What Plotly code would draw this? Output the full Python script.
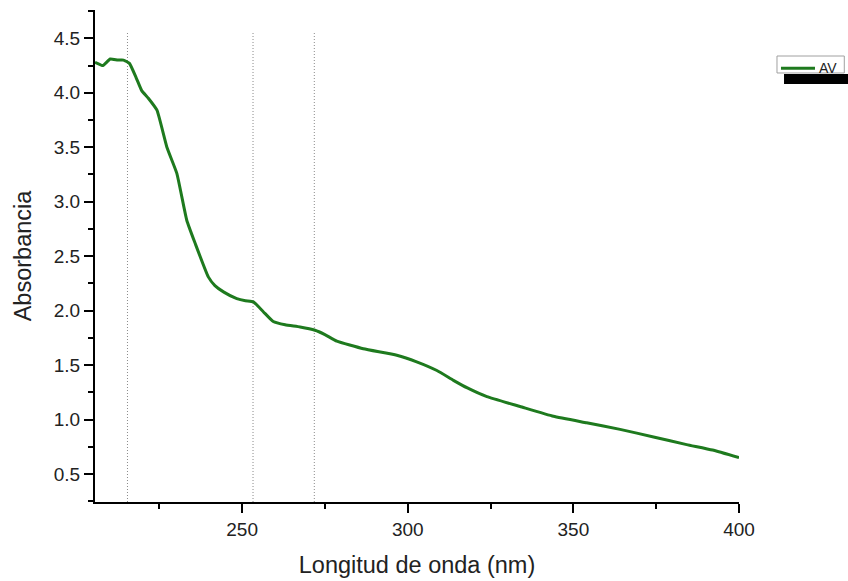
import plotly.graph_objects as go

# ---- data ----
series_name = "AV"
wavelength_nm = [205.6, 208.0, 210.2, 212.5, 214.2, 216.0, 218.0, 219.7, 221.7, 224.3,
                 227.3, 230.3, 233.3, 235.8, 239.8, 241.8, 244.5, 248.4, 251.0, 253.4,
                 256.4, 259.4, 263.0, 267.5, 272.0, 275.0, 278.6, 286.6, 296.7, 302.7,
                 308.8, 313.8, 318.0, 323.9, 333.9, 344.0, 354.0, 364.1, 374.2, 384.2,
                 392.0, 400.0]
absorbance = [4.28, 4.25, 4.31, 4.30, 4.30, 4.27, 4.14, 4.02, 3.95, 3.84,
              3.50, 3.26, 2.83, 2.62, 2.31, 2.23, 2.17, 2.11, 2.09, 2.08,
              1.99, 1.90, 1.87, 1.85, 1.82, 1.78, 1.72, 1.65, 1.59, 1.53,
              1.45, 1.36, 1.29, 1.21, 1.12, 1.03, 0.97, 0.91, 0.84, 0.77,
              0.72, 0.65]
marker_wavelengths = [215.4, 253.3, 271.8]
x_title = "Longitud de onda (nm)"
y_title = "Absorbancia"

X_RANGE = [205.6, 400]
Y_RANGE = [0.243, 4.76]
GREEN = "#1e7a1e"
FONT = "Liberation Sans, Arial, sans-serif"

fig = go.Figure()
fig.add_trace(go.Scatter(
    x=wavelength_nm, y=absorbance, mode="lines", name=series_name,
    line=dict(color=GREEN, width=3, shape="spline", smoothing=0.4),
    showlegend=False,
))

shapes = []
for w in marker_wavelengths:
    shapes.append(dict(type="line", xref="x", yref="y", x0=w, x1=w,
                       y0=Y_RANGE[0], y1=4.55,
                       line=dict(color="#8a8a8a", width=1, dash="1px,2px"),
                       layer="below"))

# legend drawn like the original (box with offset black shadow)
shapes += [
    dict(type="rect", xref="paper", yref="paper", x0=1.0699, x1=1.18, y0=0.8496, y1=0.8699,
         fillcolor="black", line=dict(width=0)),
    dict(type="rect", xref="paper", yref="paper", x0=1.0590, x1=1.1635, y0=0.8720, y1=0.9065,
         fillcolor="white", line=dict(color="#a0a0a0", width=1)),
    dict(type="line", xref="paper", yref="paper", x0=1.0652, x1=1.1180, y0=0.8817, y1=0.8817,
         line=dict(color=GREEN, width=3)),
]

axis_common = dict(
    showline=True, linecolor="black", linewidth=2, mirror=False,
    showgrid=False, zeroline=False, automargin=False,
    ticks="outside", ticklen=9, tickwidth=2, tickcolor="black",
    tickfont=dict(family=FONT, size=19, color="#222"),
)

fig.update_layout(
    width=848, height=581,
    margin=dict(l=95, r=109, t=10, b=79),
    paper_bgcolor="white", plot_bgcolor="white",
    font=dict(family=FONT),
    shapes=shapes,
    annotations=[dict(text=series_name, xref="paper", yref="paper", x=1.1210, y=0.8831,
                      xanchor="left", yanchor="middle", showarrow=False,
                      font=dict(family=FONT, size=14, color="#222"))],
    xaxis=dict(range=X_RANGE, dtick=50, tick0=0,
               minor=dict(dtick=25, tick0=0, ticks="outside", ticklen=5, tickwidth=2, tickcolor="black"),
               title=dict(text=x_title, standoff=18, font=dict(family=FONT, size=23.5, color="#222")),
               **axis_common),
    yaxis=dict(range=Y_RANGE, dtick=0.5, tick0=0, tickformat=".1f",
               minor=dict(dtick=0.25, tick0=0, ticks="outside", ticklen=5, tickwidth=2, tickcolor="black"),
               title=dict(text=y_title, standoff=16, font=dict(family=FONT, size=23.5, color="#222")),
               **axis_common),
)

fig.write_html("out.html")
